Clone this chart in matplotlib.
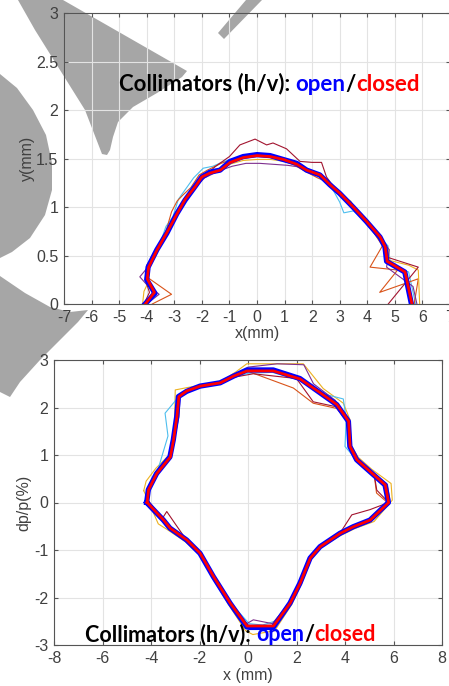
import matplotlib
matplotlib.use('Agg')
import matplotlib.pyplot as plt
from matplotlib.patches import Polygon
from matplotlib.transforms import offset_copy

plt.rcParams['axes.unicode_minus'] = False

# ---- top plot: y vs x aperture ----
top_open_x = [-4.06, -3.7, -4.0, -3.95, -3.63, -3.27, -2.91, -2.61, -2.25, -2.0, -1.7, -1.34, -0.98, -0.5, 0.0,
              0.47, 0.95, 1.44, 1.8, 2.28, 2.64, 3.0, 3.48, 3.97, 4.46, 4.64, 4.7, 5.36, 5.6]
top_open_y = [0.0, 0.11, 0.25, 0.38, 0.56, 0.73, 0.93, 1.07, 1.21, 1.31, 1.36, 1.38, 1.47, 1.52, 1.54,
              1.53, 1.49, 1.45, 1.38, 1.33, 1.23, 1.14, 1.0, 0.85, 0.69, 0.59, 0.44, 0.33, 0.0]
top_closed_x = [-4.05, -3.72, -3.98, -3.93, -3.62, -3.26, -2.9, -2.6, -2.24, -2.0, -1.7, -1.33, -0.97, -0.5, 0.0,
                0.48, 0.96, 1.45, 1.8, 2.29, 2.65, 3.01, 3.49, 3.98, 4.47, 4.65, 4.72, 5.37, 5.62]
top_closed_y = [0.0, 0.12, 0.26, 0.38, 0.56, 0.74, 0.93, 1.08, 1.21, 1.31, 1.35, 1.38, 1.46, 1.51, 1.53,
                1.52, 1.49, 1.44, 1.38, 1.33, 1.23, 1.14, 1.0, 0.85, 0.69, 0.59, 0.44, 0.33, 0.0]

top_lb_x = [-4.05, -3.8, -4.05, -3.9, -3.55, -3.3, -3.05, -2.85, -2.55, -2.3, -1.95, -1.6, -1.2, -0.7, -0.2,
            0.3, 0.8, 1.3, 1.8, 2.3, 2.75, 3.0, 3.15, 3.5, 3.9, 4.4, 4.75, 4.85, 5.5, 5.75]
top_lb_y = [0.0, 0.12, 0.27, 0.42, 0.6, 0.8, 0.9, 1.08, 1.2, 1.3, 1.4, 1.42, 1.47, 1.51, 1.53,
            1.52, 1.5, 1.45, 1.4, 1.34, 1.18, 1.05, 0.94, 0.96, 0.86, 0.7, 0.6, 0.4, 0.33, 0.0]
top_or_x = [-3.8, -3.1, -3.95, -4.0, -3.6, -3.3, -3.1, -2.9, -2.7, -2.4, -2.1, -1.8, -1.3, -0.8, -0.3,
            0.2, 0.8, 1.3, 1.8, 2.2, 2.7, 3.1, 3.5, 3.9, 4.2, 4.55, 4.1, 5.1, 4.45, 5.85, 5.7]
top_or_y = [0.0, 0.1, 0.27, 0.4, 0.58, 0.75, 0.95, 1.06, 1.12, 1.2, 1.33, 1.38, 1.45, 1.5, 1.52,
            1.52, 1.5, 1.44, 1.36, 1.3, 1.24, 1.12, 1.0, 0.87, 0.75, 0.6, 0.38, 0.35, 0.12, 0.26, 0.0]
top_ye_x = [-4.15, -4.1, -3.95, -3.9, -3.6, -3.25, -2.9, -2.6, -2.25, -1.9, -1.5, -1.0, -0.5, 0.0, 0.5,
            1.0, 1.5, 2.0, 2.5, 3.0, 3.4, 3.6, 3.9, 4.4, 4.75, 4.8, 5.5, 5.85, 5.9]
top_ye_y = [0.0, 0.13, 0.22, 0.4, 0.57, 0.75, 0.94, 1.08, 1.22, 1.32, 1.38, 1.44, 1.48, 1.49, 1.49,
            1.47, 1.42, 1.36, 1.28, 1.13, 1.06, 0.96, 0.87, 0.7, 0.58, 0.45, 0.4, 0.35, 0.0]
top_pu_x = [-4.0, -3.55, -4.0, -4.25, -3.9, -3.6, -3.25, -2.9, -2.6, -2.25, -1.9, -1.4, -0.9, -0.4, 0.1,
            0.6, 1.1, 1.6, 2.1, 2.6, 3.05, 3.5, 3.9, 4.4, 4.8, 4.7, 5.66, 5.8]
top_pu_y = [0.0, 0.1, 0.2, 0.28, 0.4, 0.56, 0.74, 0.93, 1.07, 1.2, 1.3, 1.37, 1.42, 1.45, 1.45,
            1.44, 1.43, 1.41, 1.36, 1.24, 1.12, 0.98, 0.85, 0.68, 0.56, 0.38, 0.18, 0.0]
top_dr_x = [-4.1, -3.9, -4.05, -3.95, -3.6, -3.25, -2.9, -2.55, -2.2, -1.9, -1.5, -1.0, -0.62, -0.07, 0.35,
            0.58, 1.07, 1.56, 2.0, 2.34, 2.52, 2.9, 3.4, 3.9, 4.3, 4.6, 4.75, 5.85, 4.76]
top_dr_y = [0.0, 0.12, 0.25, 0.4, 0.57, 0.75, 0.95, 1.08, 1.22, 1.32, 1.42, 1.52, 1.64, 1.70, 1.64,
            1.66, 1.6, 1.47, 1.46, 1.46, 1.31, 1.16, 1.02, 0.86, 0.75, 0.62, 0.48, 0.38, 0.0]

# ---- bottom plot: dp/p vs x ----
bot_open_x = [-4.18, -4.11, -3.77, -3.22, -3.08, -2.94, -2.87, -2.53, -1.98, -1.15, -0.6, -0.05, 1.04, 2.14,
              2.97, 3.66, 4.14, 4.2, 4.48, 5.03, 5.65, 5.79, 5.03, 4.34, 3.79, 2.97, 2.56, 2.14, 1.73,
              1.04, 0.08, -0.05, -0.74, -1.43, -1.98, -2.53, -3.22, -3.49, -4.18]
bot_open_y = [0.0, 0.27, 0.61, 0.96, 1.32, 1.81, 2.23, 2.34, 2.45, 2.52, 2.66, 2.79, 2.79, 2.61,
              2.31, 2.06, 1.71, 1.18, 0.9, 0.65, 0.37, 0.0, -0.37, -0.51, -0.65, -0.93, -1.17, -1.7, -2.12,
              -2.63, -2.63, -2.62, -2.12, -1.56, -1.07, -0.79, -0.54, -0.37, 0.0]
bot_closed_x = [-4.16, -4.1, -3.76, -3.2, -3.07, -2.93, -2.85, -2.52, -1.97, -1.14, -0.6, -0.04, 1.05, 2.15,
                2.98, 3.67, 4.15, 4.21, 4.49, 5.04, 5.66, 5.8, 5.04, 4.35, 3.8, 2.98, 2.57, 2.15, 1.74,
                1.05, 0.09, -0.04, -0.73, -1.42, -1.97, -2.52, -3.21, -3.48, -4.16]
bot_closed_y = [0.0, 0.27, 0.61, 0.96, 1.32, 1.81, 2.23, 2.35, 2.45, 2.52, 2.66, 2.77, 2.77, 2.6,
                2.31, 2.06, 1.71, 1.18, 0.9, 0.65, 0.37, 0.0, -0.37, -0.51, -0.65, -0.93, -1.17, -1.7, -2.12,
                -2.6, -2.6, -2.6, -2.12, -1.56, -1.07, -0.79, -0.54, -0.37, 0.0]

bot_ye_x = [-4.3, -4.2, -3.8, -3.25, -3.05, -3.0, -2.5, -1.95, -1.1, -0.5, -0.05, 1.0, 2.28, 3.1,
            3.93, 4.2, 4.25, 4.55, 5.1, 5.9, 5.95, 5.2, 4.4, 3.8, 3.0, 2.6, 2.2, 1.8, 1.1,
            0.2, -0.1, -0.8, -1.45, -2.0, -2.6, -3.3, -3.7, -4.3]
bot_ye_y = [0.25, 0.45, 0.72, 1.0, 1.3, 2.37, 2.42, 2.47, 2.55, 2.75, 2.92, 2.92, 2.92, 2.4,
            2.09, 1.75, 1.2, 0.95, 0.7, 0.4, 0.05, -0.4, -0.55, -0.7, -0.95, -1.2, -1.72, -2.15, -2.7,
            -2.78, -2.7, -2.15, -1.6, -1.1, -0.82, -0.58, -0.45, 0.25]
bot_lb_x = [-4.15, -4.1, -3.75, -3.3, -3.42, -2.9, -2.5, -1.95, -1.1, -0.55, 0.0, 1.0, 2.1, 3.0,
            3.93, 4.05, 4.0, 4.5, 5.05, 5.7, 5.75, 5.0, 4.3, 3.75, 2.95, 2.55, 2.1, 1.7, 1.1,
            0.6, 0.05, -0.75, -1.45, -2.0, -2.55, -3.25, -3.5, -4.15]
bot_lb_y = [0.02, 0.3, 0.63, 1.4, 1.88, 2.2, 2.35, 2.45, 2.52, 2.64, 2.72, 2.74, 2.58, 2.3,
            2.18, 1.75, 1.18, 0.88, 0.64, 0.36, 0.02, -0.38, -0.53, -0.67, -0.95, -1.18, -1.72, -2.1, -2.5,
            -2.58, -2.55, -2.1, -1.55, -1.06, -0.8, -0.55, -0.38, 0.02]
bot_or_x = [-4.2, -4.1, -3.7, -3.2, -3.05, -2.9, -2.85, -2.5, -1.95, -1.1, -0.55, 0.01, 1.87, 2.69,
            3.66, 4.1, 4.15, 4.45, 5.2, 5.3, 5.75, 5.0, 4.3, 3.75, 2.95, 2.55, 2.12, 1.7, 1.0,
            0.1, -0.1, -0.8, -1.45, -2.0, -2.55, -3.2, -3.5, -4.2]
bot_or_y = [0.02, 0.3, 0.63, 0.98, 1.3, 1.8, 2.22, 2.35, 2.46, 2.52, 2.64, 2.76, 2.41, 2.09,
            1.98, 1.7, 1.2, 0.92, 0.6, 0.2, 0.0, -0.35, -0.5, -0.64, -0.92, -1.16, -1.68, -2.1, -2.6,
            -2.62, -2.6, -2.1, -1.55, -1.06, -0.78, -0.53, -0.36, 0.02]
bot_dr_x = [-4.15, -4.0, -3.7, -3.2, -3.05, -2.9, -2.85, -2.5, -1.95, -1.1, -0.55, 0.22, 2.0, 2.69,
            3.6, 4.1, 4.18, 4.5, 5.0, 5.2, 5.31, 5.8, 5.03, 4.28, 3.8, 2.95, 2.55, 2.12, 1.7, 1.0,
            0.1, -0.1, -0.75, -1.45, -2.0, -2.55, -3.0, -3.35, -3.55, -4.15]
bot_dr_y = [0.05, 0.35, 0.65, 0.98, 1.3, 1.8, 2.22, 2.34, 2.45, 2.52, 2.64, 2.71, 2.61, 2.12,
            2.02, 1.72, 1.2, 0.9, 0.7, 0.6, 0.26, 0.0, -0.15, -0.26, -0.64, -0.92, -1.16, -1.68, -2.1, -2.6,
            -2.62, -2.6, -2.1, -1.55, -1.06, -0.78, -0.45, -0.19, -0.35, 0.05]
bot_pu_x = [-4.2, -4.1, -3.75, -3.2, -3.05, -2.85, -2.8, -2.5, -1.95, -1.1, -0.55, 0.0, 1.2, 2.3,
            2.7, 3.6, 4.1, 4.15, 4.5, 5.05, 5.75, 5.85, 5.05, 4.35, 3.8, 2.95, 2.55, 2.12, 1.7, 1.0,
            0.22, -0.05, -0.75, -1.45, -2.0, -2.55, -3.2, -3.5, -4.2]
bot_pu_y = [0.1, 0.3, 0.63, 0.98, 1.3, 1.8, 2.24, 2.36, 2.46, 2.5, 2.66, 2.85, 2.92, 2.9,
            2.5, 2.15, 1.72, 1.2, 0.9, 0.66, 0.38, 0.05, -0.37, -0.52, -0.66, -0.93, -1.17, -1.7, -2.12, -2.55,
            -2.47, -2.55, -2.1, -1.55, -1.06, -0.78, -0.53, -0.36, 0.1]

# matlab default colours for the thin traces
c_lb = '#4DBEEE'
c_or = '#D95319'
c_ye = '#EDB120'
c_pu = '#7E2F8E'
c_dr = '#A2142F'

# watermark pieces, in image pixels (x right, y down)
wm_a = [(18, 0), (63, 0), (187, 71), (182, 77), (157, 93), (133, 107), (118, 122), (113, 137), (110, 150),
        (107, 155), (102, 154), (85, 110), (60, 70), (35, 30)]
wm_b = [(218, 33), (224, 39), (262, 0), (246, 0)]
wm_c = [(0, 74), (17, 88), (33, 110), (46, 135), (52, 163), (52, 190), (45, 215), (30, 238), (12, 252), (0, 258)]
wm_d = [(0, 276), (25, 293), (50, 307), (70, 312), (88, 310), (78, 322), (62, 338), (40, 360), (20, 382),
        (10, 397), (0, 392)]

W, H = 449, 686
fig = plt.figure(figsize=(W / 100, H / 100), dpi=100)
fig.patch.set_facecolor('white')

for poly in [wm_a, wm_b, wm_c, wm_d]:
    pts = [(px / W, 1 - py / H) for px, py in poly]
    fig.patches.append(Polygon(pts, closed=True, transform=fig.transFigure, facecolor='#a6a6a6',
                               edgecolor='none', zorder=-5))

gray = '#404040'


def style_axes(ax):
    ax.set_facecolor('none')
    ax.grid(True, color='#e3e3e3', linewidth=0.8)
    ax.set_axisbelow(True)
    for s in ax.spines.values():
        s.set_color('#555555')
        s.set_linewidth(0.8)
    ax.tick_params(direction='in', length=3, color='#555555', labelcolor=gray, top=True, right=True,
                   labelsize=11.5, pad=4)
    for lab in ax.get_xticklabels() + ax.get_yticklabels():
        lab.set_family('Liberation Sans')


def title_text(ax, x, y, size):
    parts = [('Collimators (h/v): ', 'black'), ('open', '#0000FF'), ('/', 'black'), ('closed', '#FF0000')]
    fig.canvas.draw()
    r = fig.canvas.get_renderer()
    off = 0
    for s, c in parts:
        tr = offset_copy(ax.transData, fig=fig, x=off, y=0, units='dots')
        t = ax.text(x, y, s, color=c, fontsize=size, fontweight='bold', family='Lato',
                    transform=tr, va='baseline', ha='left', zorder=10)
        off += t.get_window_extent(r).width


# top axes
ax1 = fig.add_axes([64 / W, 1 - 304 / H, 386 / W, 291 / H])
for xs, ys, c in [(top_lb_x, top_lb_y, c_lb), (top_or_x, top_or_y, c_or), (top_ye_x, top_ye_y, c_ye),
                  (top_pu_x, top_pu_y, c_pu), (top_dr_x, top_dr_y, c_dr)]:
    ax1.plot(xs, ys, color=c, lw=0.8)
ax1.plot(top_open_x, top_open_y, color='#0000FF', lw=3.8)
ax1.plot(top_closed_x, top_closed_y, color='#FF0000', lw=2.0)
ax1.set_xlim(-7, 7)
ax1.set_ylim(0, 3)
ax1.set_xticks(range(-7, 8))
ax1.set_yticks([0, 0.5, 1, 1.5, 2, 2.5, 3])
ax1.set_yticklabels(['0', '0.5', '1', '1.5', '2', '2.5', '3'])
style_axes(ax1)
ax1.set_xlabel('x(mm)', fontsize=11.5, color=gray, family='Liberation Sans', labelpad=1)
ax1.set_ylabel('y(mm)', fontsize=11.5, color=gray, family='Liberation Sans', labelpad=1)

# bottom axes
ax2 = fig.add_axes([54 / W, 1 - 645 / H, 388 / W, 285 / H])
for xs, ys, c in [(bot_ye_x, bot_ye_y, c_ye), (bot_lb_x, bot_lb_y, c_lb), (bot_or_x, bot_or_y, c_or),
                  (bot_pu_x, bot_pu_y, c_pu), (bot_dr_x, bot_dr_y, c_dr)]:
    ax2.plot(xs, ys, color=c, lw=0.8)
ax2.plot(bot_open_x, bot_open_y, color='#0000FF', lw=3.8)
ax2.plot(bot_closed_x, bot_closed_y, color='#FF0000', lw=2.0)
ax2.set_xlim(-8, 8)
ax2.set_ylim(-3, 3)
ax2.set_xticks(range(-8, 9, 2))
ax2.set_yticks(range(-3, 4))
style_axes(ax2)
ax2.set_xlabel('x (mm)', fontsize=11.5, color=gray, family='Liberation Sans', labelpad=2)
ax2.set_ylabel('dp/p(%)', fontsize=11.5, color=gray, family='Liberation Sans', labelpad=2)

title_text(ax1, -5.0, 2.2, 16)
title_text(ax2, -6.72, -2.92, 15.5)

fig.savefig('out.png', dpi=100)
